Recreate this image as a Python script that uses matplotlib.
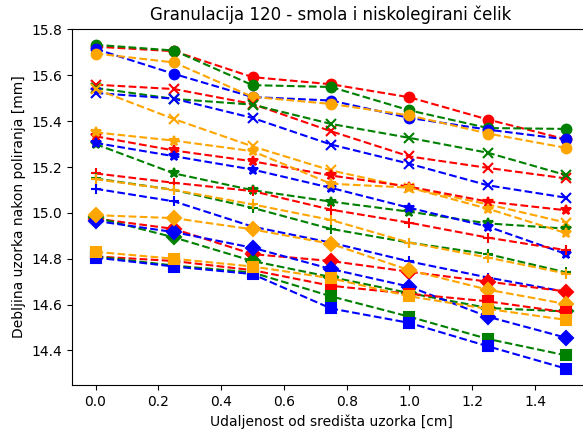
import numpy as np
import matplotlib
matplotlib.use('Agg')
import matplotlib.pyplot as plt

# udaljenost od sredista [cm]
x = [0.0, 0.25, 0.5, 0.75, 1.0, 1.25, 1.5]

boje = ['red', 'green', 'blue', 'orange']
markeri = ['o', 'x', '*', '+', 'D', 's']

# debljine [mm], redom: crvena, zelena, plava, narancasta
krug = [[15.725, 15.705, 15.592, 15.561, 15.504, 15.407, 15.32],
        [15.733, 15.708, 15.557, 15.549, 15.447, 15.37, 15.366],
        [15.715, 15.606, 15.505, 15.49, 15.414, 15.363, 15.32],
        [15.695, 15.656, 15.506, 15.475, 15.425, 15.346, 15.283]]
iks = [[15.559, 15.54, 15.475, 15.356, 15.246, 15.196, 15.15],
       [15.545, 15.497, 15.472, 15.388, 15.327, 15.262, 15.164],
       [15.523, 15.498, 15.414, 15.298, 15.214, 15.12, 15.066],
       [15.54, 15.409, 15.29, 15.185, 15.11, 15.037, 14.957]]
zvijezda = [[15.334, 15.272, 15.225, 15.163, 15.114, 15.049, 15.011],
            [15.30, 15.172, 15.099, 15.049, 15.005, 14.954, 14.931],
            [15.305, 15.247, 15.189, 15.109, 15.022, 14.94, 14.82],
            [15.351, 15.315, 15.269, 15.127, 15.11, 15.018, 14.911]]
plus = [[15.172, 15.131, 15.095, 15.014, 14.957, 14.892, 14.837],
        [15.15, 15.10, 15.022, 14.93, 14.87, 14.82, 14.74],
        [15.105, 15.05, 14.94, 14.87, 14.788, 14.718, 14.655],
        [15.147, 15.10, 15.037, 14.969, 14.87, 14.805, 14.735]]
dijamant = [[14.975, 14.93, 14.82, 14.79, 14.743, 14.70, 14.657],
            [14.98, 14.893, 14.79, 14.72, 14.65, 14.585, 14.57],
            [14.965, 14.916, 14.848, 14.755, 14.678, 14.547, 14.455],
            [14.99, 14.977, 14.928, 14.865, 14.75, 14.665, 14.602]]
kvadrat = [[14.81, 14.79, 14.75, 14.682, 14.647, 14.614, 14.566],
           [14.81, 14.77, 14.74, 14.636, 14.547, 14.45, 14.378],
           [14.805, 14.766, 14.733, 14.583, 14.52, 14.418, 14.32],
           [14.83, 14.80, 14.766, 14.715, 14.636, 14.581, 14.533]]

podaci = [krug, iks, zvijezda, plus, dijamant, kvadrat]

fig = plt.figure(figsize=(5.83, 4.3), dpi=100)
ax = fig.add_axes([0.1235, 0.1047, 0.8885, 0.8288])

for m, serije in zip(markeri, podaci):
    for c, y in zip(boje, serije):
        ax.plot(x, y, '--', marker=m, color=c, markersize=7, linewidth=1.5,
                markeredgewidth=1.5)

ax.set_title('Granulacija 120 - smola i niskolegirani čelik', fontsize=12)
ax.set_xlabel('Udaljenost od središta uzorka [cm]')
ax.set_ylabel('Debljina uzorka nakon poliranja [mm]')

plt.savefig('out.png', dpi=100)
